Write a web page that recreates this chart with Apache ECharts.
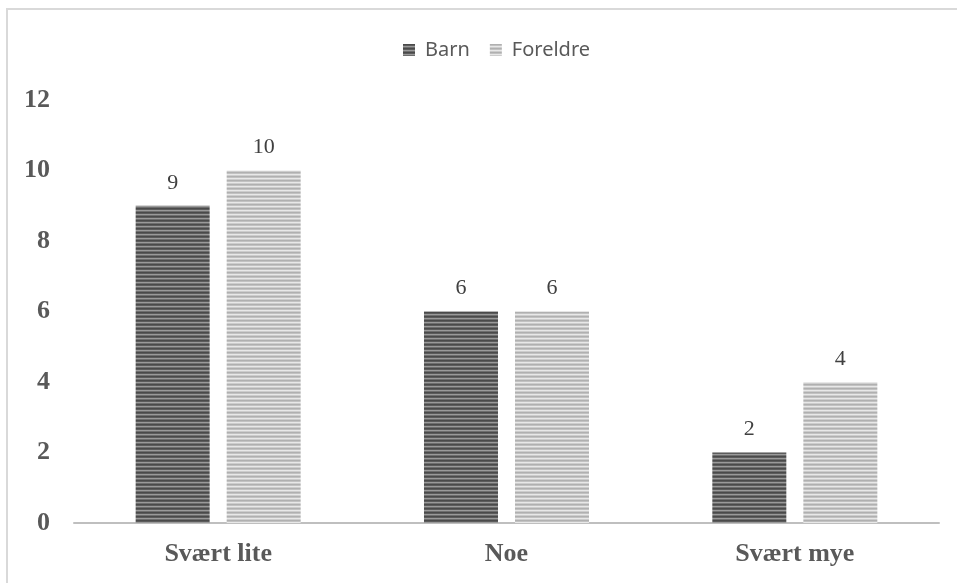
<!DOCTYPE html>
<html>
<head>
<meta charset="utf-8">
<script src="https://cdn.jsdelivr.net/npm/echarts@6/dist/echarts.min.js"></script>
<style>
  html, body { margin: 0; padding: 0; background: #fff; }
  #chart { width: 957px; height: 583px; }
</style>
</head>
<body>
<div id="chart"></div>
<script>
const categories = ['Svært lite', 'Noe', 'Svært mye']
const barnValues = [9, 6, 2]
const foreldreValues = [10, 6, 4]
const seriesNames = ['Barn', 'Foreldre']

// horizontal stripe fill, like the original's patterned bars
const stripes = (rows) => {
  const c = document.createElement('canvas')
  c.width = 4
  c.height = rows.length
  const ctx = c.getContext('2d')
  rows.forEach((col, i) => {
    ctx.fillStyle = col
    ctx.fillRect(0, i, 4, 1)
  })
  return { image: c, repeat: 'repeat' }
}

const darkFill = stripes(['#4a4a4a', '#5c5c5c', '#9a9a9a', '#6e6e6e'])
const lightFill = stripes(['#b0b0b0', '#c2c2c2', '#e8e8e8', '#cdcdcd'])

const chart = echarts.init(document.getElementById('chart'))

const labelStyle = {
  show: true,
  position: 'top',
  distance: 12,
  color: '#404040',
  fontFamily: 'Liberation Serif',
  fontSize: 22
}

chart.setOption({
  animation: false,
  graphic: [{
    type: 'rect',
    shape: { x: 7, y: 9, width: 960, height: 600 },
    style: { fill: 'none', stroke: '#d9d9d9', lineWidth: 2 }
  }],
  legend: {
    top: 35,
    left: 398,
    icon: 'rect',
    itemWidth: 12,
    itemHeight: 12,
    itemGap: 20,
    textStyle: { color: '#595959', fontFamily: 'Noto Sans', fontSize: 20, padding: [0, 0, 0, 5] },
    data: seriesNames
  },
  grid: { left: 74, right: 18, top: 100, bottom: 60 },
  xAxis: {
    type: 'category',
    data: categories,
    axisTick: { show: false },
    axisLine: { lineStyle: { color: '#bfbfbf', width: 2 } },
    axisLabel: {
      margin: 18,
      color: '#595959',
      fontFamily: 'Liberation Serif',
      fontWeight: 'bold',
      fontSize: 26
    }
  },
  yAxis: {
    type: 'value',
    min: 0,
    max: 12,
    interval: 2,
    splitLine: { show: false },
    axisLine: { show: false },
    axisTick: { show: false },
    axisLabel: {
      margin: 24,
      color: '#595959',
      fontFamily: 'Liberation Serif',
      fontWeight: 'bold',
      fontSize: 26
    }
  },
  series: [
    {
      name: seriesNames[0],
      type: 'bar',
      data: barnValues,
      barWidth: 74,
      barGap: '23%',
      itemStyle: { color: darkFill },
      label: labelStyle
    },
    {
      name: seriesNames[1],
      type: 'bar',
      data: foreldreValues,
      barWidth: 74,
      itemStyle: { color: lightFill },
      label: labelStyle
    }
  ]
})
</script>
</body>
</html>
